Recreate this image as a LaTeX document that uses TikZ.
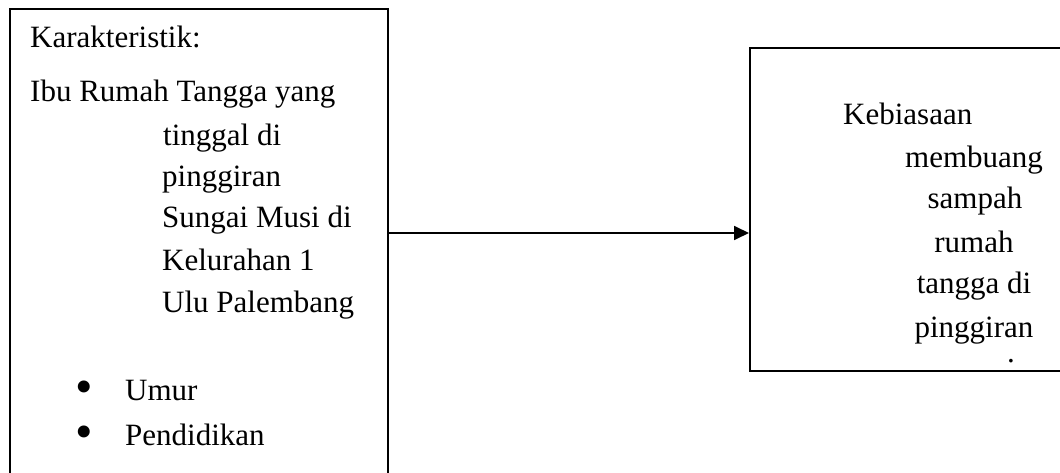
\documentclass[tikz,border=0pt]{standalone}
\usepackage{fontspec}
\setmainfont{Liberation Serif}
\usetikzlibrary{arrows.meta}

\begin{document}
\begin{tikzpicture}[x=1pt,y=-1pt,
    kotak/.style={draw,line width=1.8pt,inner sep=0pt,anchor=north west},
    teks/.style={inner sep=0pt,font=\fontsize{31}{36}\selectfont},
    bulat/.style={inner sep=0pt,font=\fontsize{50}{50}\selectfont},
    panah/.style={line width=1.8pt,-{Triangle[length=15pt,width=14pt]}}]

      \useasboundingbox (0,0) rectangle (1060,473);

      \node[kotak,minimum width=378pt,minimum height=480pt] (kiri)  at (9,8)   {};
      \node[kotak,minimum width=330pt,minimum height=323pt] (kanan) at (749,47) {};
      \coordinate (tengah) at (0,233);

      \begin{scope}[every node/.style={teks,anchor=base west}]
        \node (judul)  at (30,48)   {Karakteristik:};
        \node (ibu)    at (30,102)  {Ibu Rumah Tangga yang};
        \node (ibu2)   at (163,146) {tinggal di};
        \node (ibu3)   at (162,187) {pinggiran};
        \node (ibu4)   at (162,228) {Sungai Musi di};
        \node (ibu5)   at (162,270) {Kelurahan 1};
        \node (ibu6)   at (162,312) {Ulu Palembang};
        \node (umur)   at (125,400) {Umur};
        \node (didik)  at (125,445) {Pendidikan};
        \node (biasa)  at (843,125) {Kebiasaan};
      \end{scope}

      \node[bulat] (titik1) at (84,392) {•};
      \node[bulat] (titik2) at (84,437) {•};

      \begin{scope}[every node/.style={teks,anchor=base}]
        \node (biasa2) at (974,168)  {membuang};
        \node (biasa3) at (975,208)  {sampah};
        \node (biasa4) at (974,252)  {rumah};
        \node (biasa5) at (974,293)  {tangga di};
        \node (biasa6) at (974,337)  {pinggiran};
        \node (biasa7) at (1011,362) {.};
      \end{scope}

      \draw[panah] (kiri.east |- tengah) -- (kanan.west |- tengah);

    \end{tikzpicture}
\end{document}
